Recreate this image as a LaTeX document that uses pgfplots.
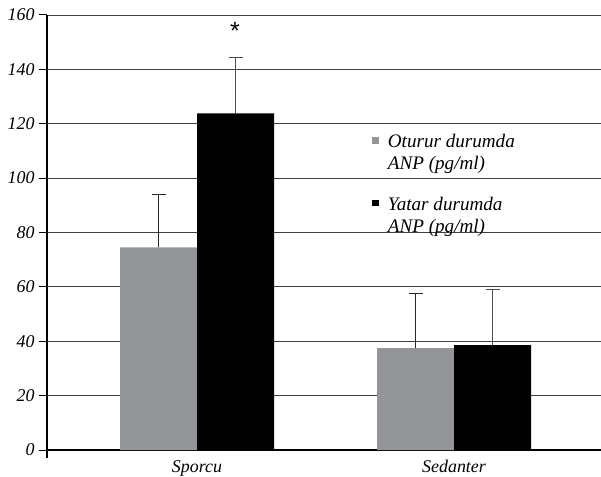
\documentclass[border=0pt]{standalone}
\usepackage{fontspec}
\setmainfont{Liberation Serif}
\newfontfamily\sansast{Liberation Sans}
\usepackage{pgfplots}
\pgfplotsset{compat=1.18}
\definecolor{bargray}{RGB}{148,149,153}
\begin{document}
\begin{tikzpicture}
\useasboundingbox (-47bp,-27bp) rectangle (554bp,450bp);
\begin{axis}[
  scale only axis,
  width=554bp, height=435bp,
  at={(0,0)}, anchor=south west,
  xmin=-0.584, xmax=1.572,
  ymin=0, ymax=160,
  ytick={0,20,...,160},
  yticklabels={0,20,40,60,80,100,120,140,160},
  xtick={0,1},
  xticklabels={Sporcu,Sedanter},
  axis lines*=left,
  axis line style={black, line width=1.1bp},
  ymajorgrids,
  major grid style={black!75, line width=0.9bp},
  tick align=outside,
  major tick length=8bp,
  y tick style={black, line width=1bp},
  x tick style={draw=none},
  extra x ticks={-0.584},
  extra x tick labels={},
  extra x tick style={x tick style={draw=black, line width=1.1bp}},
  yticklabel style={font=\fontsize{18}{20}\selectfont\itshape, xshift=-1bp},
  xticklabel style={font=\fontsize{18}{21}\selectfont\itshape, yshift=1bp},
  ybar,
  bar width=77bp,
  legend style={at={(0.587,0.731)}, anchor=north west, draw=none, fill=none,
    font=\fontsize{19.2}{22}\selectfont\itshape,
    cells={align=left, anchor=west}, row sep=22bp, column sep=7bp, inner sep=0pt},
  legend image code/.code={\fill[#1] (0bp,9bp) rectangle (6.5bp,15.5bp);},
  clip=false,
]
\addplot[fill=bargray, draw=none, bar shift=-38.5bp,
  error bars/.cd, y dir=plus, y explicit,
  error bar style={black!85, line width=0.9bp},
  error mark options={black!85, line width=0.9bp, mark size=7bp, rotate=90}]
  coordinates {(0,74.5) +- (0,19.5) (1,37.5) +- (0,19.9)};
\addlegendentry{Oturur durumda\\ANP (pg/ml)}
\addplot[fill=black, draw=none, bar shift=38.5bp,
  error bars/.cd, y dir=plus, y explicit,
  error bar style={black!70, line width=0.9bp},
  error mark options={black!70, line width=0.9bp, mark size=7bp, rotate=90}]
  coordinates {(0,123.8) +- (0,20.5) (1,38.6) +- (0,20.3)};
\addlegendentry{Yatar durumda\\ANP (pg/ml)}
\node[anchor=base, font=\sansast\fontsize{25}{26}\selectfont, inner sep=0pt] at (axis cs:0.148,151) {*};
\end{axis}
\end{tikzpicture}
\end{document}
